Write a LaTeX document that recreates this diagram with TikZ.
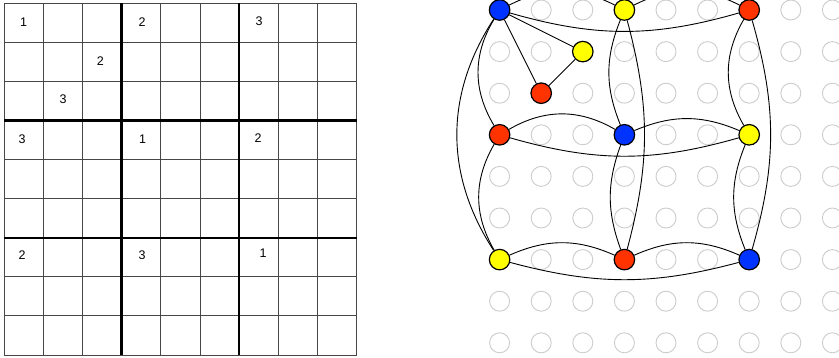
\documentclass[tikz,border=0pt]{standalone}
\usepackage{fontspec}
\setmainfont{Liberation Sans}
\definecolor{nblue}{RGB}{0,51,255}
\definecolor{nred}{RGB}{255,51,0}
\definecolor{nyellow}{RGB}{255,255,0}
\begin{document}
\begin{tikzpicture}[x=1pt,y=-1pt,
  thinline/.style={draw=black!72,line width=0.9pt},
  thickline/.style={draw=black,line width=2.2pt},
  digit/.style={inner sep=0pt,font=\fontsize{12.5}{12.5}\selectfont},
  gcirc/.style={circle,draw=black!20,line width=0.9pt,minimum size=20pt,inner sep=0pt},
  cnode/.style={circle,draw=black,line width=1.2pt,minimum size=20.5pt,inner sep=0pt},
  edge/.style={draw=black,line width=0.9pt}]
\fill[white] (0,0) rectangle (839,358);
\useasboundingbox (0,0) rectangle (839,358);
% sudoku grid
\foreach \k in {1,2,4,5,7,8}{
  \draw[thinline] (4+39.19*\k,3.3) -- (4+39.19*\k,355);
  \draw[thinline] (4,3.3+39.08*\k) -- (356.7,3.3+39.08*\k);
}
\draw[thinline] (4,3.3) rectangle (356.7,355);
\foreach \k in {3,6}{
  \draw[thickline] (4+39.19*\k,3.3) -- (4+39.19*\k,355);
  \draw[thickline] (4,3.3+39.08*\k) -- (356.7,3.3+39.08*\k);
}
% digits
\node[digit] (d00) at (23.5,22.6) {1};
\node[digit] (d03) at (142,21.8) {2};
\node[digit] (d06) at (259,21.5) {3};
\node[digit] (d12) at (100.3,61.3) {2};
\node[digit] (d21) at (63,98.7) {3};
\node[digit] (d30) at (22,138.8) {3};
\node[digit] (d33) at (142.5,138.8) {1};
\node[digit] (d36) at (258,138.6) {2};
\node[digit] (d60) at (22,255.3) {2};
\node[digit] (d63) at (142,255.5) {3};
\node[digit] (d66) at (263,253) {1};
% grey circles
\foreach \i in {0,...,8}{
  \foreach \j in {0,...,8}{
    \node[gcirc] (g\i\j) at (499.6+41.6*\i,10+41.6*\j) {};
  }
}
% coloured nodes
\node[cnode,fill=nblue]   (b00) at (499.6,10) {};
\node[cnode,fill=nyellow] (y03) at (624.4,10) {};
\node[cnode,fill=nred]    (r06) at (749.2,10) {};
\node[cnode,fill=nyellow] (y12) at (582.8,51.6) {};
\node[cnode,fill=nred]    (r21) at (541.2,93.2) {};
\node[cnode,fill=nred]    (r30) at (499.6,134.8) {};
\node[cnode,fill=nblue]   (b33) at (624.4,134.8) {};
\node[cnode,fill=nyellow] (y36) at (749.2,134.8) {};
\node[cnode,fill=nyellow] (y60) at (499.6,259.6) {};
\node[cnode,fill=nred]    (r63) at (624.4,259.6) {};
\node[cnode,fill=nblue]   (b66) at (749.2,259.6) {};
% edges
\draw[edge] (b00) to[bend left=27] (y03);
\draw[edge] (y03) to[bend left=27] (r06);
\draw[edge] (b00) to[bend right=16] (r06);
\draw[edge] (b00) -- (y12);
\draw[edge] (b00) -- (r21);
\draw[edge] (y12) -- (r21);
\draw[edge] (r30) to[bend left=30] (b33);
\draw[edge] (b33) to[bend left=23] (y36);
\draw[edge] (r30) to[bend right=16] (y36);
\draw[edge] (y60) to[bend left=24] (r63);
\draw[edge] (r63) to[bend left=24] (b66);
\draw[edge] (y60) to[bend right=15] (b66);
\draw[edge] (b00) to[bend right=31] (r30);
\draw[edge] (r30) to[bend right=30] (y60);
\draw[edge] (b00) to[bend right=33] (y60);
\draw[edge] (y03) to[bend right=22] (b33);
\draw[edge] (b33) to[bend right=20] (r63);
\draw[edge] (y03) to[bend left=15] (r63);
\draw[edge] (r06) to[bend right=30] (y36);
\draw[edge] (y36) to[bend right=22] (b66);
\draw[edge] (r06) to[bend left=16] (b66);
\end{tikzpicture}
\end{document}
